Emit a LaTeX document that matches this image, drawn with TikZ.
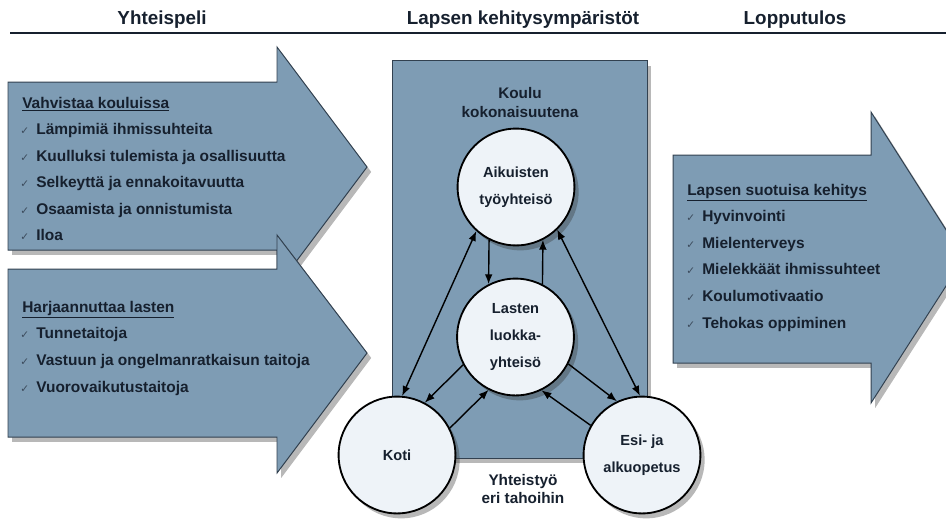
\documentclass[tikz,border=0pt]{standalone}
\usepackage{fontspec}
\setmainfont{Liberation Sans}
\newfontfamily\tickfont{DejaVu Sans}
\usetikzlibrary{arrows.meta, shadows}

\definecolor{steel}{RGB}{126,156,180}
\definecolor{steeledge}{RGB}{50,65,80}
\definecolor{pale}{RGB}{238,243,248}
\definecolor{ink}{RGB}{22,32,46}
\definecolor{tickgray}{RGB}{60,75,92}

\newcommand{\okmark}{\makebox[11.4pt][l]{\textcolor{tickgray}{\tickfont\fontsize{7.5}{7.5}\selectfont ✓}}}

\begin{document}
\begin{tikzpicture}[
      x=0.025cm, y=-0.025cm,
      softshadow/.style={drop shadow={shadow xshift=3pt, shadow yshift=-3.5pt, opacity=0.35, fill=black!80}},
      bigarrow/.style={fill=steel, draw=steeledge, line width=0.7pt, softshadow},
      envbox/.style={rectangle, fill=steel, draw=steeledge, line width=0.7pt, minimum width=6.35cm, minimum height=9.925cm, softshadow},
      env/.style={circle, draw=black, line width=1.3pt, fill=pale, minimum size=2.92cm, inner sep=0pt, align=center, text=ink, font=\bfseries\fontsize{10.4}{19.5}\selectfont, softshadow},
      colhead/.style={anchor=base, inner sep=0pt, text=ink, font=\bfseries\fontsize{13.4}{16}\selectfont},
      listhead/.style={anchor=base west, inner sep=0pt, text=ink, font=\bfseries\fontsize{11}{13}\selectfont},
      item/.style={anchor=base west, inner sep=0pt, text=ink, font=\bfseries\fontsize{11}{13}\selectfont},
      caption/.style={align=center, inner sep=0pt, text=ink, font=\bfseries\fontsize{10.9}{13.5}\selectfont},
      link/.style={-{Latex[length=7pt,width=5.5pt]}, line width=1pt},
      twoway/.style={{Latex[length=7pt,width=5.5pt]}-{Latex[length=7pt,width=5.5pt]}, line width=1pt}
    ]
    \path[use as bounding box] (0,0) rectangle (946,529);

    % column titles
    \node[colhead] (yhteispeli) at (162,24) {Yhteispeli};
    \node[colhead] (ymparistot) at (523,24) {Lapsen kehitysympäristöt};
    \node[colhead] (lopputulos) at (795,24) {Lopputulos};
    \coordinate (ruleL) at (10,33);
    \coordinate (ruleR) at (946,33);
    \draw[line width=1.5pt, ink] (ruleL) -- (ruleR);

    % left arrows
    \path[bigarrow] (8,82) -- (277,82) -- (277,47) -- (367,167) -- (277,287) -- (277,250) -- (8,250) -- cycle;
    \path[bigarrow] (8,269) -- (277,269) -- (277,235) -- (367,353) -- (277,473) -- (277,437) -- (8,437) -- cycle;
    % right arrow
    \path[bigarrow] (673,155) -- (871,155) -- (871,112) -- (964,258) -- (871,403) -- (871,363) -- (673,363) -- cycle;

    \node[listhead] (vahvistaa) at (22,108) {\underline{Vahvistaa kouluissa}};
    \foreach \txt [count=\i] in {Lämpimiä ihmissuhteita, Kuulluksi tulemista ja osallisuutta,
        Selkeyttä ja ennakoitavuutta, Osaamista ja onnistumista, Iloa}
      \node[item] (vah\i) at (20,{108+26.5*\i}) {\okmark\txt};

    \node[listhead] (harjaannuttaa) at (22,312) {\underline{Harjaannuttaa lasten}};
    \foreach \txt [count=\i] in {Tunnetaitoja, Vastuun ja ongelmanratkaisun taitoja, Vuorovaikutustaitoja}
      \node[item] (harj\i) at (20,{312+26.7*\i}) {\okmark\txt};

    \node[listhead] (suotuisa) at (687,195) {\underline{Lapsen suotuisa kehitys}};
    \foreach \txt [count=\i] in {Hyvinvointi, Mielenterveys, Mielekkäät ihmissuhteet, Koulumotivaatio, Tehokas oppiminen}
      \node[item] (kehitys\i) at (686,{195+26.6*\i}) {\okmark\txt};

    % school and circles
    \node[envbox] (koulu) at (520,259.5) {};
    \node[caption] (kouluteksti) at (520,102.5) {Koulu\\kokonaisuutena};
    \node[env] (aik) at (516,187) {Aikuisten\\työyhteisö};
    \node[env] (lasten) at (515.5,337) {Lasten\\luokka-\\yhteisö};
    \node[env] (koti) at (397,455) {Koti};
    \node[env] (esi) at (642,455) {Esi- ja\\alkuopetus};
    \node[caption] (yhteistyo) at (523,489) {Yhteistyö\\eri tahoihin};

    \draw[twoway] (aik.228) -- (koti.85);
    \draw[twoway] (aik.314) -- (esi.92);
    \draw[link] (aik.243) -- (lasten.117);
    \draw[link] (lasten.63) -- (aik.297);
    \draw[link] (lasten.208) -- (koti.62);
    \draw[link] (koti.27) -- (lasten.243);
    \draw[link] (lasten.333) -- (esi.115);
    \draw[link] (esi.150) -- (lasten.296);
  \end{tikzpicture}
\end{document}
